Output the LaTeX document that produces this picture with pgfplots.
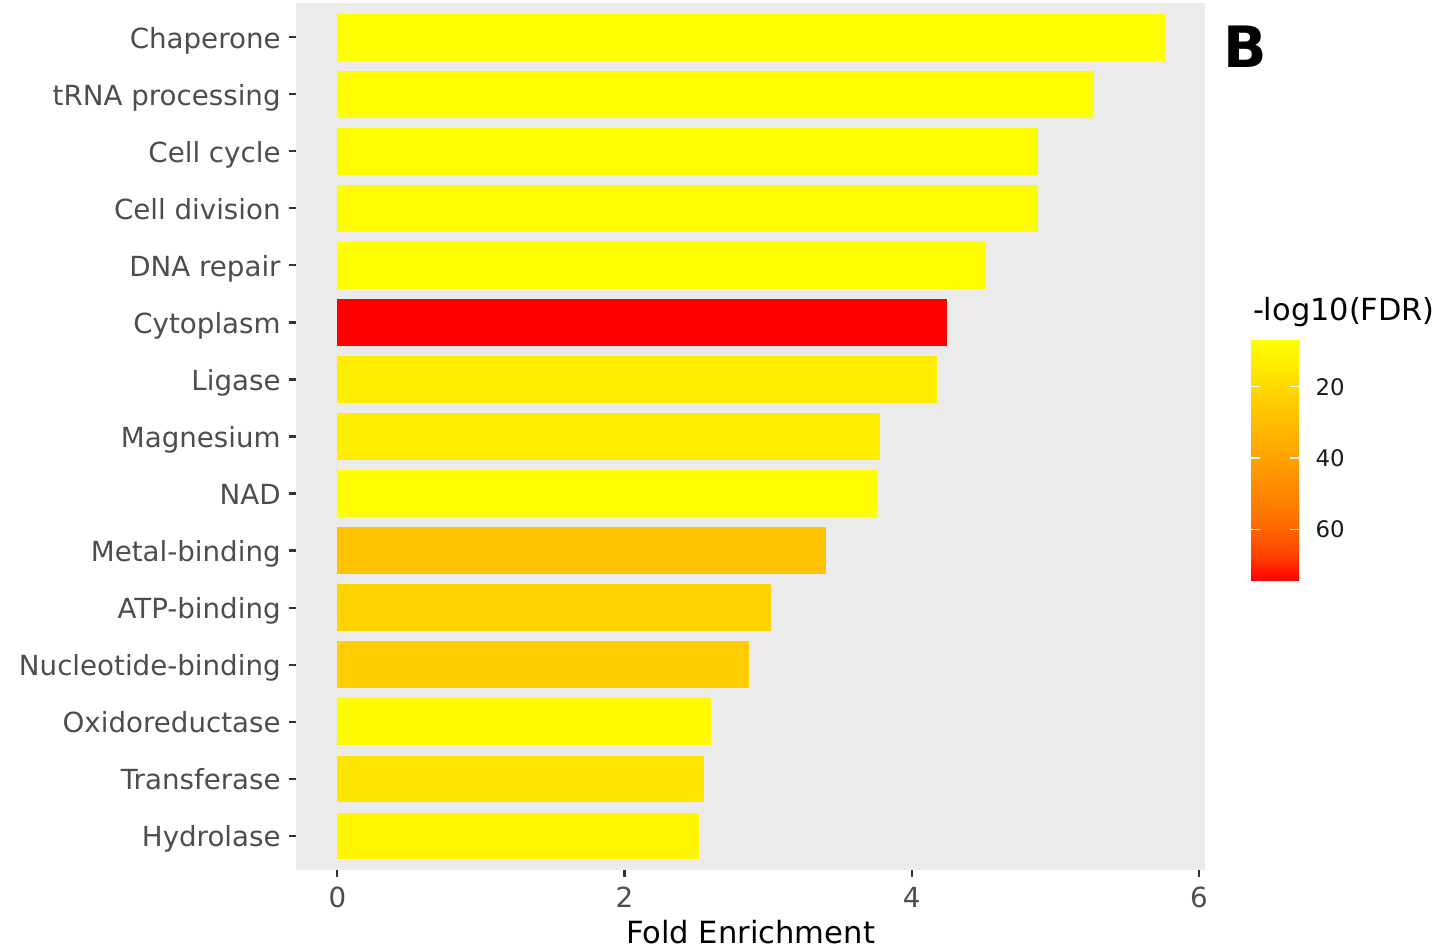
\documentclass[border=0pt]{standalone}
\usepackage{pgfplots}
\pgfplotsset{compat=1.18}
\usepackage{fontspec}
\setmainfont{DejaVu Sans}
\definecolor{panel}{HTML}{EBEBEB}
\definecolor{tickc}{HTML}{333333}
\definecolor{labc}{HTML}{4D4D4D}
\definecolor{legc}{HTML}{1A1A1A}
\begin{document}
\begin{tikzpicture}
\useasboundingbox (0,0) rectangle (721.5pt,474.5pt);
\begin{axis}[
  name=main,
  at={(148pt,39.5pt)}, anchor=south west,
  width=454.5pt, height=433.5pt, scale only axis,
  xmin=-0.2878, xmax=6.043, ymin=-0.6, ymax=14.6,
  axis background/.style={fill=panel},
  axis line style={draw=none},
  tick align=outside, major tick length=3.5pt,
  tick style={color=tickc, line width=1.1pt},
  xtick={0,2,4,6}, ytick={0,...,14},
  xtick pos=left, ytick pos=left,
  yticklabels={Hydrolase, Transferase, Oxidoreductase, Nucleotide-binding, ATP-binding, Metal-binding, NAD, Magnesium, Ligase, Cytoplasm, DNA repair, Cell division, Cell cycle, tRNA processing, Chaperone},
  ticklabel style={font=\fontsize{13.85}{16}\selectfont, text=labc},
  yticklabel style={inner sep=0pt, anchor=base east, xshift=-4pt, yshift=-5.4pt},
  xticklabel style={inner sep=0pt, yshift=-4.85pt},
  /pgf/number format/assume math mode=true,
  colormap={fdr}{[1pt] rgb255(0pt)=(255,255,0); rgb255(10pt)=(255,237,0); rgb255(25pt)=(255,206,0); rgb255(50pt)=(255,161,0); rgb255(75pt)=(255,113,0); rgb255(90pt)=(255,65,0); rgb255(100pt)=(255,0,0)},
  point meta min=6.6, point meta max=74.2,
  colorbar,
  colorbar/width=24pt,
  colorbar style={
    at={(parent axis.north east)}, anchor=north west,
    xshift=14.5pt, yshift=-168pt,
    height=120.5pt,
    y dir=reverse,
    ytick={20,40,60},
    ytick pos=both, yticklabel pos=right,
    tick align=inside, major tick length=4.5pt,
    tick style={color=white, line width=0.6pt},
    axis line style={draw=none},
    yticklabel style={font=\fontsize{11.4}{13}\selectfont, text=legc, anchor=west, inner sep=0pt, xshift=8pt},
    /pgf/number format/assume math mode=true,
  },
]
% each bar: Fold Enrichment (x length) at category index, with -log10(FDR) as colour value
\addplot[patch, patch type=rectangle, shader=flat, point meta=explicit] coordinates {
 (0,-0.4) [9.6]  (2.512,-0.4) [9.6]  (2.512,0.4) [9.6]  (0,0.4) [9.6]
 (0,0.6) [15.7]  (2.547,0.6) [15.7]  (2.547,1.4) [15.7]  (0,1.4) [15.7]
 (0,1.6) [8.5]   (2.598,1.6) [8.5]   (2.598,2.4) [8.5]   (0,2.4) [8.5]
 (0,2.6) [23.8]  (2.862,2.6) [23.8]  (2.862,3.4) [23.8]  (0,3.4) [23.8]
 (0,3.6) [22.1]  (3.018,3.6) [22.1]  (3.018,4.4) [22.1]  (0,4.4) [22.1]
 (0,4.6) [28.0]  (3.400,4.6) [28.0]  (3.400,5.4) [28.0]  (0,5.4) [28.0]
 (0,5.6) [7.2]   (3.754,5.6) [7.2]   (3.754,6.4) [7.2]   (0,6.4) [7.2]
 (0,6.6) [13.0]  (3.776,6.6) [13.0]  (3.776,7.4) [13.0]  (0,7.4) [13.0]
 (0,7.6) [13.0]  (4.172,7.6) [13.0]  (4.172,8.4) [13.0]  (0,8.4) [13.0]
 (0,8.6) [74.2]  (4.242,8.6) [74.2]  (4.242,9.4) [74.2]  (0,9.4) [74.2]
 (0,9.6) [7.0]   (4.512,9.6) [7.0]   (4.512,10.4) [7.0]  (0,10.4) [7.0]
 (0,10.6) [8.0]  (4.874,10.6) [8.0]  (4.874,11.4) [8.0]  (0,11.4) [8.0]
 (0,11.6) [8.0]  (4.874,11.6) [8.0]  (4.874,12.4) [8.0]  (0,12.4) [8.0]
 (0,12.6) [7.5]  (5.264,12.6) [7.5]  (5.264,13.4) [7.5]  (0,13.4) [7.5]
 (0,13.6) [6.6]  (5.757,13.6) [6.6]  (5.757,14.4) [6.6]  (0,14.4) [6.6]
};
\end{axis}
\node[anchor=base west, inner sep=0pt, font=\fontsize{15.2}{18}\selectfont] at (626.3pt,314pt) {-log10(FDR)};
\node[anchor=base west, inner sep=0pt, font=\fontsize{28.5}{32}\selectfont\bfseries] at (611.5pt,440.5pt) {B};
\node[anchor=base, inner sep=0pt, font=\fontsize{15.3}{17}\selectfont] at (375.25pt,2.85pt) {Fold Enrichment};
\end{tikzpicture}
\end{document}
